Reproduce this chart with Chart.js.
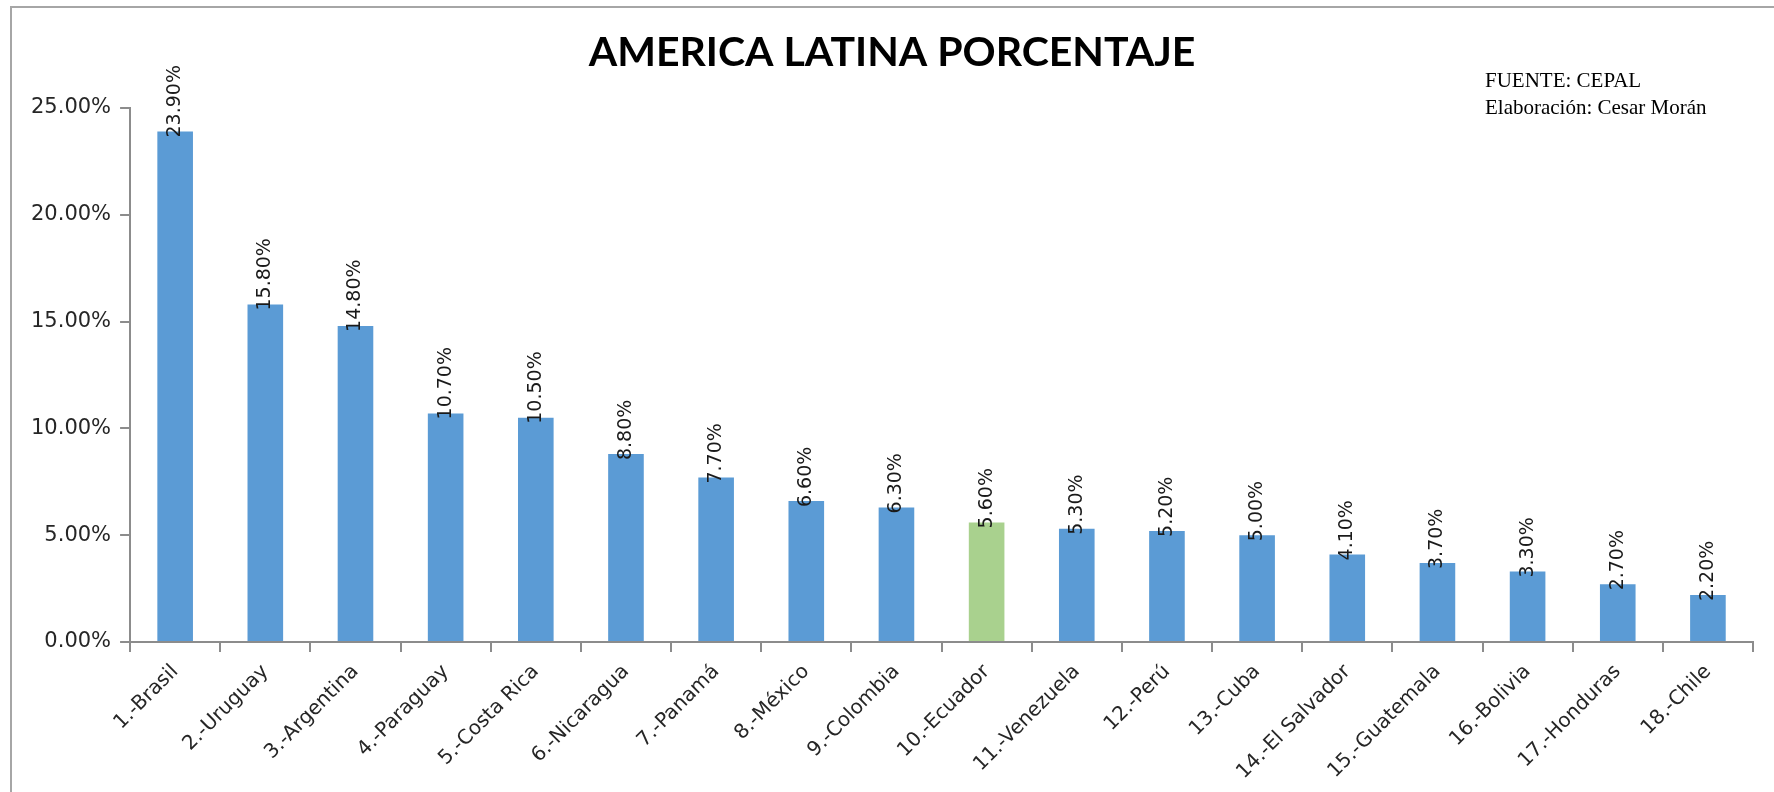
<!DOCTYPE html>
<html>
<head>
<meta charset="utf-8">
<title>America Latina Porcentaje</title>
<script src="https://cdn.jsdelivr.net/npm/chart.js@4.4.1/dist/chart.umd.min.js"></script>
<style>
  html, body { margin: 0; padding: 0; background: #ffffff; }
  #wrap { position: relative; width: 1774px; height: 792px; }
</style>
</head>
<body>
<div id="wrap"><canvas id="grafico"></canvas></div>
<script>
// ==========================================
// 1. DATOS
// ==========================================

const paises = [
    '1.-Brasil', '2.-Uruguay', '3.-Argentina', '4.-Paraguay', '5.-Costa Rica',
    '6.-Nicaragua', '7.-Panamá', '8.-México', '9.-Colombia', '10.-Ecuador',
    '11.-Venezuela', '12.-Perú', '13.-Cuba', '14.-El Salvador', '15.-Guatemala',
    '16.-Bolivia', '17.-Honduras', '18.-Chile'
];
const porcentajes = [23.9, 15.8, 14.8, 10.7, 10.5, 8.8, 7.7, 6.6, 6.3, 5.6, 5.3, 5.2, 5.0, 4.1, 3.7, 3.3, 2.7, 2.2];
const paisDestacado = '10.-Ecuador';
const tituloGrafico = 'AMERICA LATINA PORCENTAJE';
const fuente = ['FUENTE: CEPAL', 'Elaboración: Cesar Morán'];
const ticksY = [0, 5, 10, 15, 20, 25];

const AZUL = '#5B9BD5';
const VERDE = '#A9D18E';
const GRIS_EJE = '#8C8C8C';

// ==========================================
// 2. PLUGIN: marco, titulo, fuente y etiquetas
// ==========================================

const decoracion = {
    id: 'decoracion',
    beforeDraw(chart) {
        const ctx = chart.ctx;
        ctx.save();
        ctx.strokeStyle = '#A6A6A6';
        ctx.lineWidth = 2;
        ctx.strokeRect(11, 7, chart.width + 20, chart.height + 20); // solo se ven izquierda y arriba
        ctx.restore();
    },
    afterDraw(chart) {
        const ctx = chart.ctx;
        ctx.save();

        // titulo
        ctx.fillStyle = '#000000';
        ctx.font = 'bold 41px Lato';
        ctx.textAlign = 'center';
        ctx.textBaseline = 'alphabetic';
        ctx.fillText(tituloGrafico, 892, 66);

        // fuente
        ctx.font = '21px "Liberation Serif"';
        ctx.textAlign = 'left';
        fuente.forEach((linea, i) => ctx.fillText(linea, 1485, 87 + i * 27));

        // etiquetas de datos (verticales)
        const meta = chart.getDatasetMeta(0);
        ctx.font = '19px "DejaVu Sans"';
        ctx.fillStyle = '#1a1a1a';
        ctx.textBaseline = 'middle';
        meta.data.forEach((barra, i) => {
            ctx.save();
            ctx.translate(barra.x, barra.y + 6);
            ctx.rotate(-Math.PI / 2);
            ctx.fillText(porcentajes[i].toFixed(2) + '%', 0, 0);
            ctx.restore();
        });

        ctx.restore();
    }
};

// ==========================================
// 3. GRAFICO
// ==========================================

const colores = paises.map(p => p === paisDestacado ? VERDE : AZUL);

new Chart(document.getElementById('grafico'), {
    type: 'bar',
    data: {
        labels: paises,
        datasets: [{
            label: 'Porcentaje',
            data: porcentajes,
            backgroundColor: colores,
            borderWidth: 0,
            categoryPercentage: 1,
            barPercentage: 0.395
        }]
    },
    options: {
        responsive: true,
        maintainAspectRatio: false,
        animation: false,
        layout: { padding: { top: 108, left: 22, right: 21, bottom: 0 } },
        plugins: {
            legend: { display: false },
            tooltip: { enabled: false },
            title: { display: false }
        },
        scales: {
            x: {
                grid: {
                    drawOnChartArea: false,
                    drawTicks: true,
                    tickLength: 10,
                    color: GRIS_EJE,
                    lineWidth: 2
                },
                border: { color: GRIS_EJE, width: 2 },
                ticks: {
                    autoSkip: false,
                    minRotation: 45,
                    maxRotation: 45,
                    padding: 8,
                    color: '#262626',
                    font: { family: 'DejaVu Sans', size: 20 }
                }
            },
            y: {
                min: 0,
                max: 25,
                afterBuildTicks(axis) {
                    axis.ticks = ticksY.map(v => ({ value: v }));
                },
                grid: {
                    drawOnChartArea: false,
                    drawTicks: true,
                    tickLength: 10,
                    color: GRIS_EJE,
                    lineWidth: 2
                },
                border: { color: GRIS_EJE, width: 2 },
                ticks: {
                    padding: 9,
                    color: '#262626',
                    font: { family: 'DejaVu Sans', size: 21 },
                    callback: v => Number(v).toFixed(2) + '%'
                }
            }
        }
    },
    plugins: [decoracion]
});
</script>
</body>
</html>
